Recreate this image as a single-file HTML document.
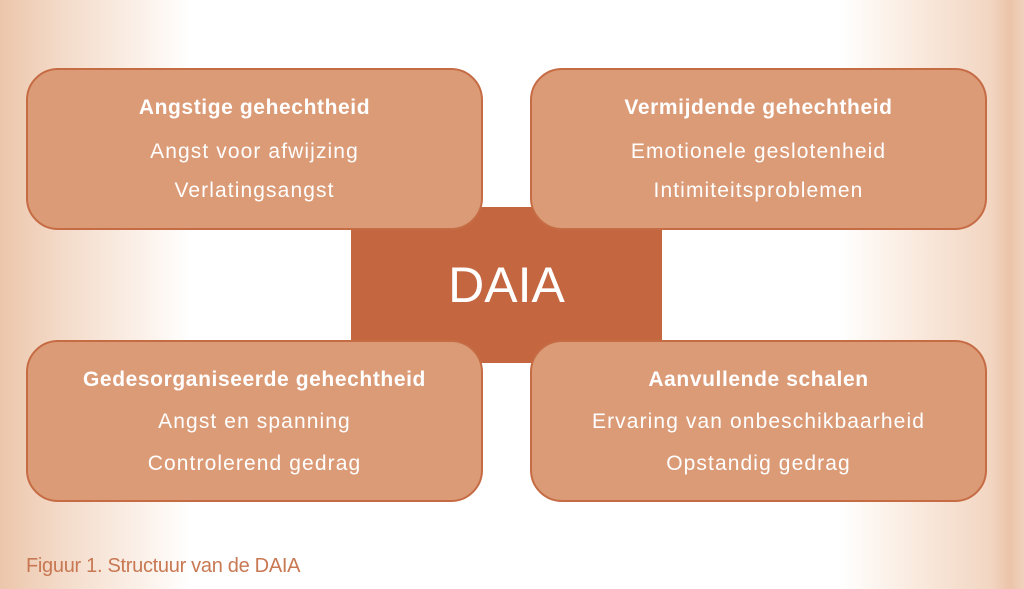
<!DOCTYPE html>
<html><head><meta charset="utf-8"><style>
body{margin:0;width:1024px;height:589px;overflow:hidden;position:relative;font-family:"Liberation Sans",sans-serif;
background:linear-gradient(to right,#ecc6ab 0px,#f3dac8 60px,#fdf6f1 160px,#fff 190px,#fff 840px,#fbeee4 900px,#f2d6c2 990px,#ebc4a9 1010px,#f0d2bd 1024px);}
.c{position:absolute;left:351px;top:207px;width:311px;height:156px;background:#c4663f;border-radius:16px;color:#fff;font-size:50px;text-align:center;line-height:156px;}
.b{position:absolute;width:457px;height:162px;background:#db9b77;border:2px solid #c66c45;border-radius:32px;color:#fff;text-align:center;font-size:21px;letter-spacing:1.1px;box-sizing:border-box}
.b div{position:absolute;left:0;right:0}
.t{font-weight:bold;letter-spacing:0.6px}
.cap{position:absolute;left:26px;top:555px;color:#c87852;font-size:20px;letter-spacing:-0.3px}
</style></head><body>
<div class="c">DAIA</div>
<div class="b" style="left:26px;top:68px"><div class="t" style="top:26px">Angstige gehechtheid</div><div style="top:70px">Angst voor afwijzing</div><div style="top:109px">Verlatingsangst</div></div>
<div class="b" style="left:530px;top:68px"><div class="t" style="top:26px">Vermijdende gehechtheid</div><div style="top:70px">Emotionele geslotenheid</div><div style="top:109px">Intimiteitsproblemen</div></div>
<div class="b" style="left:26px;top:340px"><div class="t" style="top:26px">Gedesorganiseerde gehechtheid</div><div style="top:68px">Angst en spanning</div><div style="top:110px">Controlerend gedrag</div></div>
<div class="b" style="left:530px;top:340px"><div class="t" style="top:26px">Aanvullende schalen</div><div style="top:68px">Ervaring van onbeschikbaarheid</div><div style="top:110px">Opstandig gedrag</div></div>
<div class="cap">Figuur 1. Structuur van de DAIA</div>
</body></html>
